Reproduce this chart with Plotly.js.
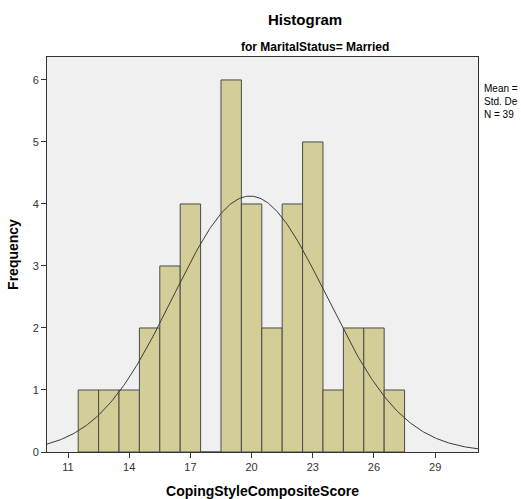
<!DOCTYPE html>
<html><head><meta charset="utf-8">
<script src="https://cdn.plot.ly/plotly-3.0.1.min.js"></script>
<style>body{margin:0;background:#fff}#c{width:521px;height:499px}</style>
</head><body><div id="c"></div>
<script>
const binCenters = [12,13,14,15,16,17,18,19,20,21,22,23,24,25,26,27];
const frequencies = [1,1,1,2,3,4,0,6,4,2,4,5,1,2,2,1];
const xTicks = [11,14,17,20,23,26,29];
const meanVal = 19.92;
const sdVal = 3.77;
const nVal = 39;
const binWidth = 1;

const curveX = [], curveY = [];
for (let i = 0; i <= 300; i++) {
  const x = 9.9 + i * (31.2 - 9.9) / 300;
  curveX.push(x);
  curveY.push(nVal * binWidth / (sdVal * Math.sqrt(2 * Math.PI)) * Math.exp(-0.5 * Math.pow((x - meanVal) / sdVal, 2)));
}

const font = 'Arial, "Liberation Sans", sans-serif';
const data = [
  {type:'bar', x:binCenters, y:frequencies, width:binWidth,
   marker:{color:'#d3ce97', line:{color:'#4a4a4a', width:1}}, hoverinfo:'x+y'},
  {type:'scatter', mode:'lines', x:curveX, y:curveY, line:{color:'#3a3a3a', width:1}, hoverinfo:'skip'}
];
const layout = {
  width:521, height:499,
  margin:{l:47, r:43, t:57, b:47},
  paper_bgcolor:'#ffffff', plot_bgcolor:'#f0f0f0',
  showlegend:false, bargap:0,
  font:{family:font, color:'#333', size:11},
  xaxis:{range:[9.97,31.1], tickvals:xTicks, ticktext:xTicks.map(String), ticks:'outside', ticklen:5,
         tickcolor:'#333', showgrid:false, zeroline:false, showline:true, linecolor:'#333', mirror:true,
         tickfont:{size:11, color:'#333'},
         title:{text:'<b>CopingStyleCompositeScore</b>', font:{size:14, color:'#000'}, standoff:14}},
  yaxis:{range:[0,6.37], tickvals:[0,1,2,3,4,5,6], ticks:'outside', ticklen:5, tickcolor:'#333',
         showgrid:false, zeroline:false, showline:true, linecolor:'#333', mirror:true,
         tickfont:{size:11, color:'#333'},
         title:{text:'<b>Frequency</b>', font:{size:14, color:'#000'}, standoff:10}},
  annotations:[
    {text:'<b>Histogram</b>', xref:'paper', yref:'paper', x:(305-47)/431, y:1, yshift:38, xanchor:'center', yanchor:'middle', showarrow:false, font:{size:15, color:'#000'}},
    {text:'<b>for MaritalStatus= Married</b>', xref:'paper', yref:'paper', x:(315-47)/431, y:1, yshift:10, xanchor:'center', yanchor:'middle', showarrow:false, font:{size:12, color:'#000'}},
    {text:'Mean = <br>Std. De<br>N = ' + nVal, xref:'paper', yref:'paper', x:1, xshift:4, y:1, yshift:-24, xanchor:'left', yanchor:'top', align:'left', showarrow:false, font:{size:10, color:'#000'}}
  ]
};
Plotly.newPlot('c', data, layout, {displayModeBar:false, staticPlot:true});
</script></body></html>
